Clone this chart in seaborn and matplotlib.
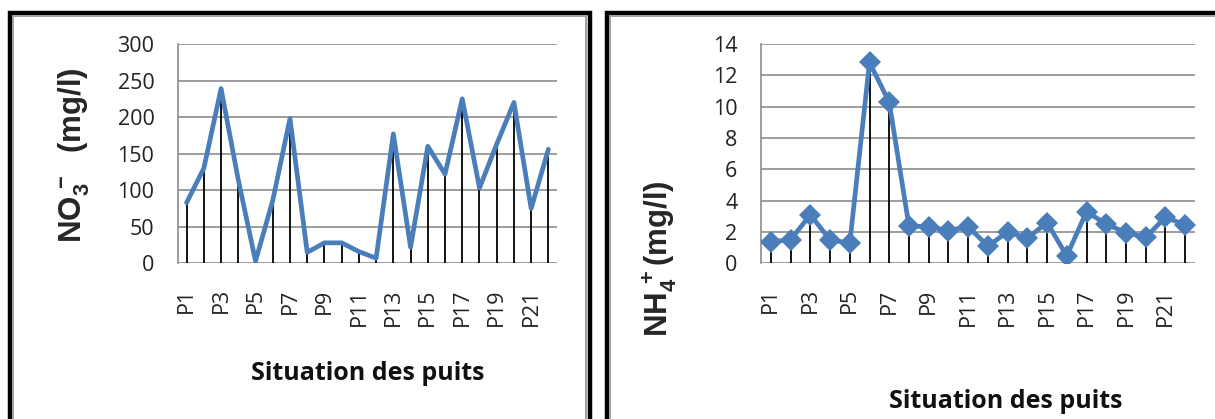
import matplotlib
matplotlib.use('Agg')
import matplotlib.pyplot as plt
import seaborn as sns
import numpy as np
from matplotlib.patches import Rectangle

# data
puits = ['P%d' % i for i in range(1, 23)]
no3 = [83, 130, 239, 114, 3, 86, 198, 15, 28, 28, 16, 7,
       177, 22, 160, 122, 225, 103, 163, 220, 75, 156]
nh4 = [1.38, 1.5, 3.1, 1.5, 1.28, 12.83, 10.28, 2.38, 2.34, 2.09, 2.34,
       1.1, 2.0, 1.6, 2.6, 0.47, 3.3, 2.5, 1.96, 1.66, 2.94, 2.45]
no3_ticks = [0, 50, 100, 150, 200, 250, 300]
nh4_ticks = [0, 2, 4, 6, 8, 10, 12, 14]

sns.set_style('white')
plt.rcParams['font.family'] = ['Open Sans', 'DejaVu Sans']
plt.rcParams['mathtext.fontset'] = 'custom'
plt.rcParams['mathtext.rm'] = 'Liberation Sans:bold'
plt.rcParams['mathtext.default'] = 'rm'

W, H = 1215, 419
fig = plt.figure(figsize=(W / 100, H / 100), dpi=100)


def px_axes(x0, y0, x1, y1):
    return fig.add_axes([x0 / W, 1 - y1 / H, (x1 - x0) / W, (y1 - y0) / H])


def style_axis(ax, values, ticks, marker=None):
    x = np.arange(len(puits))
    ax.vlines(x, 0, values, color='black', lw=1.3, zorder=2)
    sns.lineplot(x=x, y=values, ax=ax, color='#4a7ebb', lw=3.4,
                 marker=marker, markersize=11, markeredgewidth=0,
                 zorder=3, legend=False)
    ax.set_xlim(-0.5, len(puits) - 0.5)
    ax.set_ylim(ticks[0], ticks[-1])
    ax.set_yticks(ticks)
    ax.set_xticks(x[::2])
    ax.set_xticklabels(puits[::2], rotation=90, va='top', ha='center')
    ax.grid(axis='y', color='#8c8c8c', lw=1.2)
    ax.set_axisbelow(True)
    for s in ['top', 'right', 'bottom']:
        ax.spines[s].set_visible(False)
    ax.spines['left'].set_color('#8c8c8c')
    ax.spines['left'].set_linewidth(1.2)
    ax.tick_params(axis='y', length=7, width=1.2, color='#8c8c8c',
                   labelsize=15.5, pad=10, labelcolor='#222222')
    ax.tick_params(axis='x', length=0, labelsize=15.5, pad=18,
                   labelcolor='#222222')
    ax.set_xlabel('')
    ax.set_ylabel('')


ax1 = px_axes(178, 44, 557, 263.3)
style_axis(ax1, no3, no3_ticks)
ax2 = px_axes(761, 44, 1195, 263.3)
style_axis(ax2, nh4, nh4_ticks, marker='D')

# axis titles
fig.text(74 / W, 1 - 155 / H, r'NO$_3^{\,-}$  (mg/l)', rotation=90, ha='center',
         va='center', fontsize=22.5, fontweight='bold', family='Liberation Sans')
fig.text(660 / W, 1 - 259 / H, r'NH$_4^{\,+}$(mg/l)', rotation=90, ha='center',
         va='center', fontsize=22.5, fontweight='bold', family='Liberation Sans')
fig.text(368 / W, 1 - 373 / H, 'Situation des puits', ha='center', va='center',
         fontsize=18, fontweight='bold', color='#111111')
fig.text(1006 / W, 1 - 401 / H, 'Situation des puits', ha='center', va='center',
         fontsize=18, fontweight='bold', color='#111111')

# panel frames
def frame(x0, y0, x1, y1, color, lw):
    fig.patches.append(Rectangle((x0 / W, 1 - y1 / H), (x1 - x0) / W,
                                 (y1 - y0) / H, transform=fig.transFigure,
                                 fill=False, edgecolor=color, lw=lw,
                                 clip_on=False))

frame(10, 13, 589.5, 440, 'black', 3.2)
frame(13, 16, 586, 440, '#a0a0a0', 1.4)
frame(606.5, 13, 1240, 440, 'black', 3.2)
frame(610, 16, 1240, 440, '#a0a0a0', 1.4)

fig.savefig('out.png', dpi=100)
